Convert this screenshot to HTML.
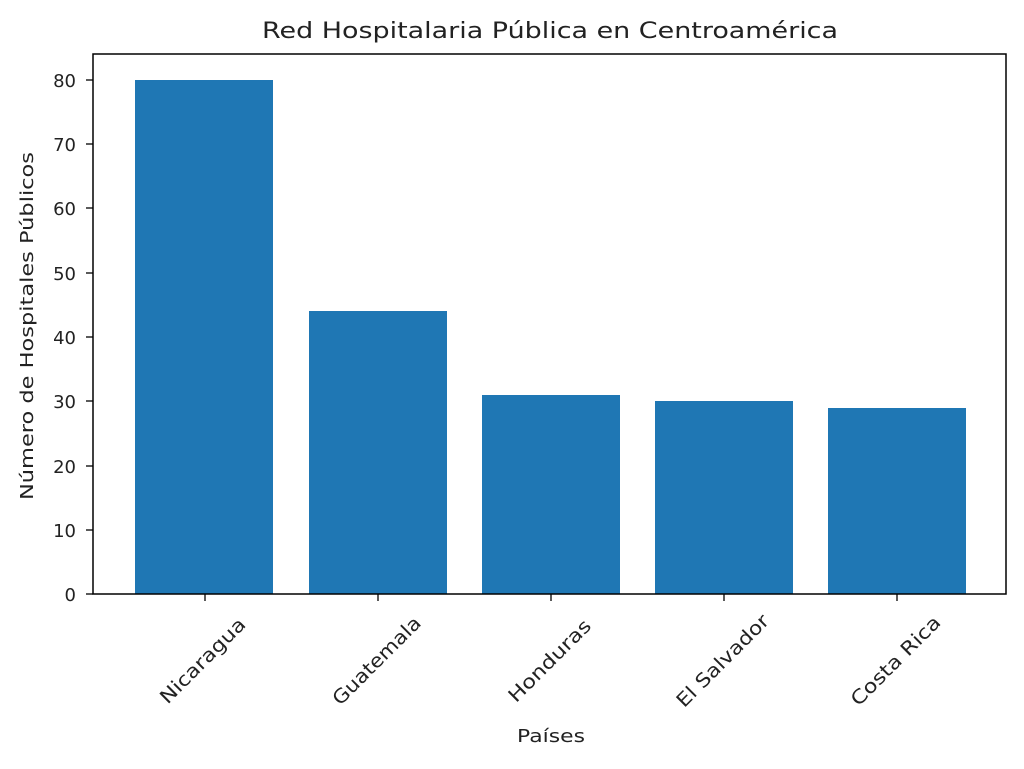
<!DOCTYPE html>
<html><head><meta charset="utf-8"><style>body{margin:0;background:#fff}</style></head>
<body>
<svg width="1024" height="764" xmlns="http://www.w3.org/2000/svg" font-family="DejaVu Sans, Liberation Sans, sans-serif">
<rect width="1024" height="764" fill="#fff"/>
<g fill="#1f77b4">
<rect x="135" y="80" width="138" height="514"/>
<rect x="309" y="311" width="138" height="283"/>
<rect x="482" y="395" width="138" height="199"/>
<rect x="655" y="401" width="138" height="193"/>
<rect x="828" y="408" width="138" height="186"/>
</g>
<rect x="93" y="54" width="913" height="540" fill="none" stroke="#000" stroke-width="1.5"/>
<g stroke="#000" stroke-width="1.3">
<line x1="86" y1="594" x2="93" y2="594"/><line x1="86" y1="530" x2="93" y2="530"/>
<line x1="86" y1="466" x2="93" y2="466"/><line x1="86" y1="401" x2="93" y2="401"/>
<line x1="86" y1="337" x2="93" y2="337"/><line x1="86" y1="273" x2="93" y2="273"/>
<line x1="86" y1="208" x2="93" y2="208"/><line x1="86" y1="144" x2="93" y2="144"/>
<line x1="86" y1="80" x2="93" y2="80"/>
<line x1="205" y1="594" x2="205" y2="601"/><line x1="378" y1="594" x2="378" y2="601"/>
<line x1="551" y1="594" x2="551" y2="601"/><line x1="724" y1="594" x2="724" y2="601"/>
<line x1="897" y1="594" x2="897" y2="601"/>
</g>
<g font-size="18" fill="#222" text-anchor="end">
<text x="76" y="601">0</text><text x="76" y="537">10</text><text x="76" y="473">20</text>
<text x="76" y="408">30</text><text x="76" y="344">40</text><text x="76" y="280">50</text>
<text x="76" y="215">60</text><text x="76" y="151">70</text><text x="76" y="87">80</text>
</g>
<g font-size="19" fill="#222" text-anchor="middle" dominant-baseline="central">
<text transform="translate(203,661) rotate(-45)" textLength="112" lengthAdjust="spacingAndGlyphs">Nicaragua</text>
<text transform="translate(377,661) rotate(-45)" textLength="116" lengthAdjust="spacingAndGlyphs">Guatemala</text>
<text transform="translate(550,661) rotate(-45)" textLength="108" lengthAdjust="spacingAndGlyphs">Honduras</text>
<text transform="translate(723,661) rotate(-45)" textLength="122" lengthAdjust="spacingAndGlyphs">El Salvador</text>
<text transform="translate(896,661) rotate(-45)" textLength="118" lengthAdjust="spacingAndGlyphs">Costa Rica</text>
</g>
<text x="551" y="742" font-size="18" fill="#222" text-anchor="middle" textLength="68" lengthAdjust="spacingAndGlyphs">Países</text>
<text transform="translate(33,326) rotate(-90)" font-size="18" fill="#222" text-anchor="middle" textLength="348" lengthAdjust="spacingAndGlyphs">Número de Hospitales Públicos</text>
<text x="550" y="38" font-size="22" fill="#222" text-anchor="middle" textLength="576" lengthAdjust="spacingAndGlyphs">Red Hospitalaria Pública en Centroamérica</text>
</svg>
</body></html>
